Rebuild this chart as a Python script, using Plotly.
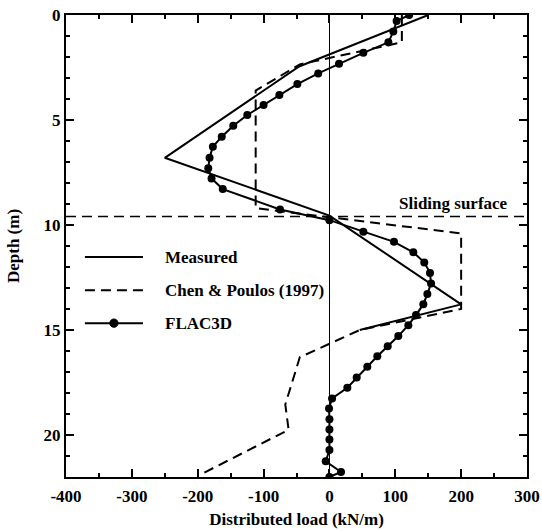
import plotly.graph_objects as go

# ---- data ----
measured_load = [150, -46, -250, 0, 200, 46]
measured_depth = [0, 2.45, 6.8, 9.55, 13.78, 15.0]

chen_load = [110, 110, -45, -112, -112, 200, 200, 46, -45, -67, -62, -197]
chen_depth = [0, 1.3, 2.35, 3.6, 9.2, 10.4, 14.0, 15.0, 16.3, 18.55, 19.75, 21.9]

flac_load = [121, 102, 97, 89.5, 51.5, 14.6, -17, -48.7, -76, -100, -124.7, -146,
             -163.5, -177, -182, -184, -179, -162, -75, 0, 51.5, 98, 127.4, 144,
             152.7, 154.3, 148.7, 142.6, 131.5, 119.8, 104.6, 88.5, 72.7, 57.5,
             41.4, 27.2, 4, -0.6, 0, 0, 0, 0, -5.6, 17.6, 0]
flac_depth = [0, 0.29, 0.79, 1.30, 1.80, 2.32, 2.78, 3.29, 3.81, 4.29, 4.76, 5.27,
              5.80, 6.27, 6.80, 7.30, 7.78, 8.29, 9.26, 9.77, 10.32, 10.80, 11.30, 11.78,
              12.28, 12.78, 13.29, 13.77, 14.29, 14.77, 15.29, 15.77, 16.25, 16.75,
              17.26, 17.75, 18.26, 18.74, 19.25, 19.74, 20.21, 20.72, 21.25, 21.76, 22.0]

x_tick_vals = [-400, -300, -200, -100, 0, 100, 200, 300]
x_tick_text = ["-400", "-300", "-200", "-100", "0", "100", "200", "300"]

sliding_depth = 9.6
series_names = ["Measured", "Chen & Poulos (1997)", "FLAC3D"]

FONT = "Liberation Serif, Times New Roman, serif"
fig = go.Figure()

fig.add_trace(go.Scatter(x=measured_load, y=measured_depth, mode="lines",
                         line=dict(color="black", width=2), name=series_names[0],
                         showlegend=False))
fig.add_trace(go.Scatter(x=chen_load, y=chen_depth, mode="lines",
                         line=dict(color="black", width=2, dash="10px,6px"),
                         name=series_names[1], showlegend=False))
fig.add_trace(go.Scatter(x=flac_load, y=flac_depth, mode="lines+markers",
                         line=dict(color="black", width=2),
                         marker=dict(color="black", size=8, symbol="circle"),
                         name=series_names[2], showlegend=False))

# sliding surface line
fig.add_shape(type="line", xref="paper", yref="y", x0=0, x1=1,
              y0=sliding_depth, y1=sliding_depth,
              line=dict(color="black", width=1.5, dash="10px,6px"))
fig.add_annotation(x=189, y=8.97, xref="x", yref="y", text="Sliding surface",
                   showarrow=False, font=dict(family=FONT, size=17, color="black", weight="bold"))

# manual legend
leg_x0, leg_x1, leg_tx = 0.041, 0.167, 0.21
leg_ys = [0.476, 0.404, 0.333]
dashes = ["solid", "10px,6px", "solid"]
for name, ly, d in zip(series_names, leg_ys, dashes):
    fig.add_shape(type="line", xref="paper", yref="paper", x0=leg_x0, x1=leg_x1,
                  y0=ly, y1=ly, line=dict(color="black", width=2, dash=d))
    fig.add_annotation(x=leg_tx, y=ly, xref="paper", yref="paper", text=name,
                       showarrow=False, xanchor="left", yanchor="middle",
                       font=dict(family=FONT, size=17, color="black", weight="bold"))
fig.add_shape(type="circle", xref="paper", yref="paper",
              x0=(leg_x0 + leg_x1) / 2 - 0.009, x1=(leg_x0 + leg_x1) / 2 + 0.009,
              y0=leg_ys[2] - 0.009, y1=leg_ys[2] + 0.009,
              fillcolor="black", line=dict(color="black", width=1))

tickfont = dict(family=FONT, size=17, color="black", weight="bold")
titlefont = dict(family=FONT, size=17, color="black", weight="bold")

fig.update_layout(
    width=542, height=531,
    margin=dict(l=66, r=15, t=15, b=54),
    paper_bgcolor="white", plot_bgcolor="white",
    font=dict(family=FONT, color="black"),
    xaxis=dict(range=[-400, 300], tickmode="array", tickvals=x_tick_vals, ticktext=x_tick_text,
               ticks="inside", ticklen=8, tickwidth=2, tickcolor="black",
               minor=dict(dtick=50, tick0=-400, ticks="inside", ticklen=4, tickwidth=2, tickcolor="black"),
               showline=True, linewidth=2, linecolor="black", mirror="allticks",
               showgrid=False, zeroline=True, zerolinecolor="black", zerolinewidth=1,
               tickfont=tickfont, automargin=False, ticklabelstandoff=3,
               title=dict(text="Distributed load (kN/m)", font=titlefont, standoff=8)),
    yaxis=dict(range=[22, 0], tickmode="linear", tick0=0, dtick=5,
               ticks="inside", ticklen=8, tickwidth=2, tickcolor="black",
               minor=dict(dtick=1, ticks="inside", ticklen=4, tickwidth=2, tickcolor="black"),
               showline=True, linewidth=2, linecolor="black", mirror="allticks",
               showgrid=False, zeroline=False,
               tickfont=tickfont, automargin=False,
               title=dict(text="Depth (m)", font=titlefont, standoff=20)),
)

fig.write_html("out.html")
